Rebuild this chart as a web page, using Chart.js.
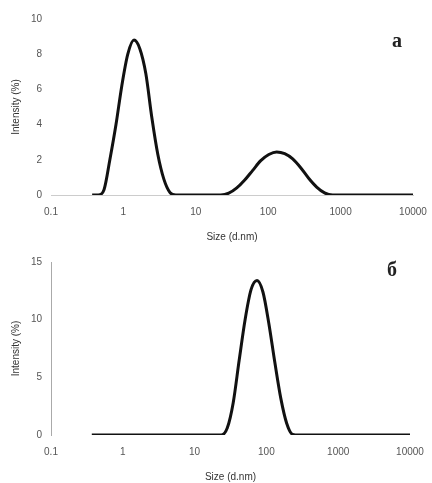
<!DOCTYPE html>
<html>
<head>
<meta charset="utf-8">
<script src="https://cdn.jsdelivr.net/npm/chart.js@4.4.1/dist/chart.umd.min.js"></script>
<style>
    body { margin: 0; background: #fff; }
    .wrap { position: relative; width: 432px; height: 483px; overflow: hidden; }
    canvas { position: absolute; left: 0; }
    #chartA { top: 0; }
    #chartB { top: 244px; }
    .panel_label { position: absolute; font-family: "Liberation Serif", serif; font-weight: bold; font-size: 20px; color: #222; }
</style>
</head>
<body>
<div class="wrap">
    <canvas id="chartA" width="432" height="244"></canvas>
    <canvas id="chartB" width="432" height="239"></canvas>
    <div class="panel_label" style="left:392px; top:29px;">a</div>
    <div class="panel_label" style="left:387px; top:258px;">б</div>
</div>
<script>
const xTickValues = [0.1, 1, 10, 100, 1000, 10000];
const xTickLabels = ['0.1', '1', '10', '100', '1000', '10000'];
const yTicksA = [0, 2, 4, 6, 8, 10];
const yTicksB = [0, 5, 10, 15];

// sample a: two populations
const sizesA = [0.37, 0.45, 0.54, 0.65, 0.79, 0.95, 1.15, 1.40, 1.69, 2.04, 2.47, 2.99, 3.62, 4.38, 5.3, 7.8, 11.7, 17.5, 22.1,
    28.5, 36.8, 47.4, 61.1, 78.9, 102, 131, 169, 218, 281, 362, 467, 601, 776, 1000, 1480, 2210, 3300, 5000, 7400, 10000];
const intensityA = [0, 0, 0.3, 2.0, 4.0, 6.2, 8.0, 8.8, 8.3, 6.9, 4.4, 2.3, 0.9, 0.15, 0, 0, 0, 0, 0,
    0.1, 0.4, 0.85, 1.4, 1.95, 2.3, 2.45, 2.35, 2.05, 1.55, 0.95, 0.45, 0.12, 0, 0, 0, 0, 0, 0, 0, 0];

// sample б: one population
const sizesB = [0.37, 0.6, 1, 1.6, 2.6, 4.2, 6.8, 11, 17.5, 23.6, 28.5, 34.5, 41.8, 50.5, 61.1, 74, 89.5, 108, 131,
    158.5, 192, 232, 281, 500, 1000, 2000, 4000, 7000, 10000];
const intensityB = [0, 0, 0, 0, 0, 0, 0, 0, 0, 0, 0.6, 2.8, 6.5, 10.0, 12.6, 13.4, 12.4, 9.7, 6.3,
    3.2, 1.0, 0.05, 0, 0, 0, 0, 0, 0, 0];

document.addEventListener('DOMContentLoaded', () => {

    const tickFont = { family: 'Liberation Sans, Arial, sans-serif', size: 10 };
    const titleFont = { family: 'Liberation Sans, Arial, sans-serif', size: 10 };

    function makeChart(id, sizes, values, yTicks, yMax, area) {
        const ctx = document.getElementById(id).getContext('2d');
        const points = sizes.map((s, i) => ({ x: s, y: values[i] }));

        const options = {
            responsive: false,
            animation: false,
            layout: {
                padding: { left: 4, right: area.right, top: area.top, bottom: 0 }
            },
            plugins: {
                legend: { display: false },
                tooltip: { enabled: false }
            },
            scales: {
                x: {
                    type: 'logarithmic',
                    min: 0.1,
                    max: 10000,
                    afterBuildTicks: (scale) => {
                        scale.ticks = xTickValues.map(v => ({ value: v }));
                    },
                    afterFit: (scale) => {
                        scale.height = area.xHeight;
                        scale.paddingLeft = 0;
                        scale.paddingRight = 0;
                    },
                    ticks: {
                        autoSkip: false,
                        maxRotation: 0,
                        padding: 11,
                        color: '#555',
                        font: tickFont,
                        callback: (v, i) => xTickLabels[i]
                    },
                    grid: { display: false, drawTicks: false },
                    border: area.xBorder,
                    title: {
                        display: true,
                        text: 'Size (d.nm)',
                        color: '#333',
                        font: titleFont,
                        padding: { top: 0, bottom: area.titlePad }
                    }
                },
                y: {
                    min: 0,
                    max: yMax,
                    afterBuildTicks: (scale) => {
                        scale.ticks = yTicks.map(v => ({ value: v }));
                    },
                    afterFit: (scale) => { scale.width = 47; },
                    ticks: {
                        padding: 9,
                        color: '#555',
                        font: tickFont
                    },
                    grid: { display: false, drawTicks: false },
                    border: area.yBorder,
                    title: {
                        display: true,
                        text: 'Intensity (%)',
                        color: '#333',
                        font: titleFont,
                        padding: { top: 6, bottom: 0 }
                    }
                }
            }
        };

        return new Chart(ctx, {
            type: 'line',
            data: {
                datasets: [{
                    data: points,
                    borderColor: '#111',
                    borderWidth: 3,
                    pointRadius: 0,
                    fill: false,
                    cubicInterpolationMode: 'monotone'
                }]
            },
            options: options
        });
    }

    makeChart('chartA', sizesA, intensityA, yTicksA, 10, {
        top: 19, right: 19, xHeight: 49, titlePad: 1,
        xBorder: { display: true, color: '#ccc', dash: [5, 4], width: 1 },
        yBorder: { display: false }
    });

    makeChart('chartB', sizesB, intensityB, yTicksB, 15, {
        top: 18, right: 22, xHeight: 48, titlePad: 0,
        xBorder: { display: false },
        yBorder: { display: true, color: '#aaa', width: 1 }
    });
})
</script>
</body>
</html>
